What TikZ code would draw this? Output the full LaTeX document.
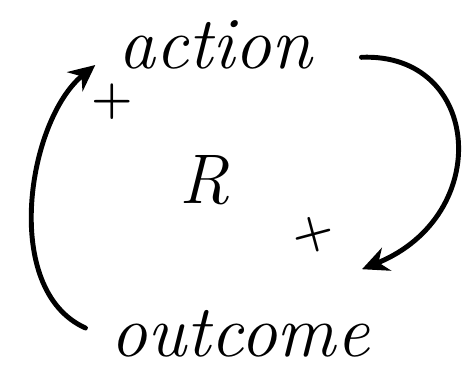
\documentclass[tikz,border=0pt]{standalone}
\usepackage{tikz}
\usetikzlibrary{arrows.meta, positioning, calc}

\begin{document}
\begin{tikzpicture}[
  word/.style={inner sep=0pt, font=\itshape\fontsize{42}{44}\selectfont},
  plussign/.style={inner sep=0pt, font=\bfseries\fontsize{27}{29}\selectfont},
  cyclearrow/.style={line width=2.8pt, line cap=round, -{Stealth[length=15pt, width=14pt]}}
]
  \useasboundingbox (0,0) rectangle (9.34,7.44);
  \node[word] (action) at (4.3, 6.54) {action};
  \node[word] (outcome) at (4.8, 0.76) {outcome};
  \node[word, font=\itshape\fontsize{40}{42}\selectfont] (reward) at (4.1, 3.84) {R};
  \node[plussign] (plusA) at (2.24, 5.4) {+};
  \node[plussign, rotate=15] (plusB) at (6.26, 2.74) {+};
  % action -> outcome, round the right side
  \draw[cyclearrow] ([xshift=28pt, yshift=-7pt]action.east)
    .. controls ++(2.4, 0.1) and ($(outcome.north east)+(2.5, 1.9)$) .. ([shift={(-0.15, 0.82)}]outcome.north east);
  % outcome -> action, round the left side
  \draw[cyclearrow] ([shift={(-0.5, 0.12)}]outcome.west)
    .. controls ++(-1.7, 0.76) and ($(action.west)+(-1.8, -1.5)$) .. ([shift={(-0.45, -0.4)}]action.west);
\end{tikzpicture}
\end{document}
